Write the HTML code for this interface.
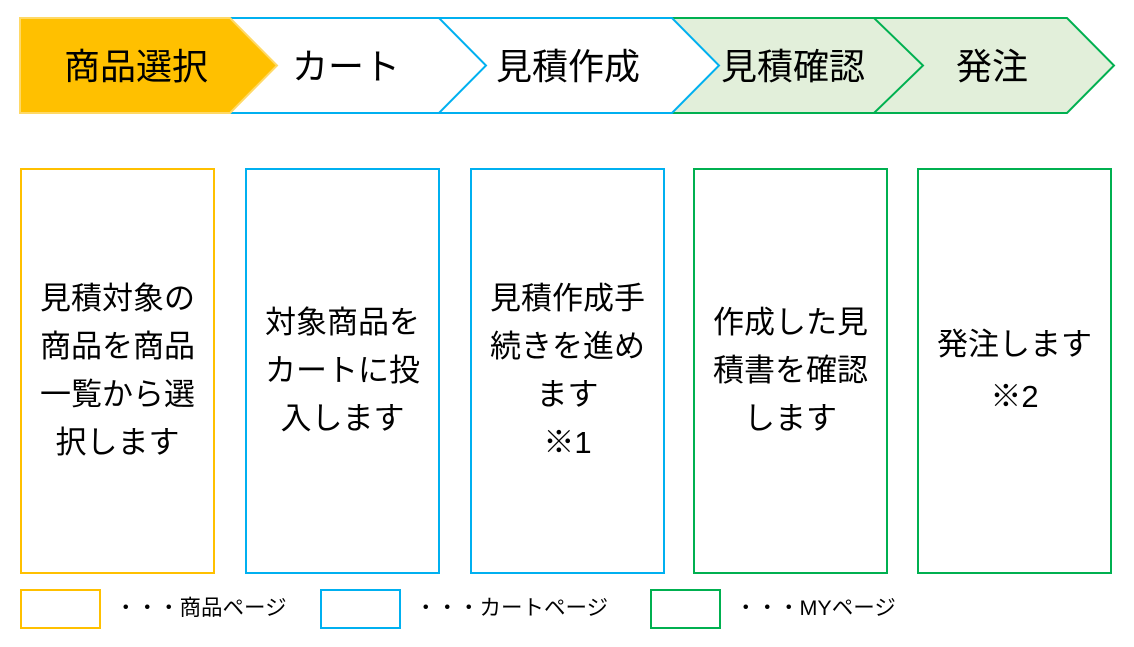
<!DOCTYPE html>
<html><head><meta charset="utf-8"><style>
body{margin:0;width:1134px;height:647px;background:#fff;font-family:"Liberation Sans","Noto Sans CJK JP",sans-serif;position:relative;overflow:hidden}
svg{position:absolute;left:0;top:0}
.b{position:absolute;top:168px;height:406px;width:195px;box-sizing:border-box;border:2px solid;display:flex;align-items:center;justify-content:center;text-align:center;font-size:31px;line-height:48px;color:#000;white-space:nowrap}
.l{position:absolute;top:589px;height:40px;box-sizing:border-box;border:2px solid}
.t{position:absolute;top:594px;font-size:21.5px;line-height:28px}
</style></head><body>
<svg width="1134" height="647">
<g stroke-width="2">
<polygon points="874,18 1067,18 1114,65.5 1067,113 874,113" fill="#E2EFDA" stroke="#00B050"/>
<polygon points="672,18 874,18 923,65.5 874,113 672,113" fill="#E2EFDA" stroke="#00B050"/>
<polygon points="439,18 672,18 719,65.5 672,113 439,113" fill="#fff" stroke="#00B0F0"/>
<polygon points="230,18 439,18 486,65.5 439,113 230,113" fill="#fff" stroke="#00B0F0"/>
<polygon points="20,18 230,18 277,65.5 230,113 20,113" fill="#FFC000" stroke="#FFD966"/>
</g>
<g font-size="36" font-family="Liberation Sans, Noto Sans CJK JP, sans-serif" text-anchor="middle" fill="#000">
<text x="136" y="79">商品選択</text>
<text x="346" y="79">カート</text>
<text x="568" y="79">見積作成</text>
<text x="793" y="79">見積確認</text>
<text x="992" y="79">発注</text>
</g>
</svg>
<div class="b" style="left:20px;border-color:#FFC000">見積対象の<br>商品を商品<br>一覧から選<br>択します</div>
<div class="b" style="left:245px;border-color:#00B0F0">対象商品を<br>カートに投<br>入します</div>
<div class="b" style="left:470px;border-color:#00B0F0">見積作成手<br>続きを進め<br>ます<br>※1</div>
<div class="b" style="left:693px;border-color:#00B050">作成した見<br>積書を確認<br>します</div>
<div class="b" style="left:917px;border-color:#00B050;line-height:52px">発注します<br>※2</div>
<div class="l" style="left:20px;width:81px;border-color:#FFC000"></div>
<div class="l" style="left:320px;width:81px;border-color:#00B0F0"></div>
<div class="l" style="left:650px;width:71px;border-color:#00B050"></div>
<div class="t" style="left:115px">・・・商品ページ</div>
<div class="t" style="left:415px">・・・カートページ</div>
<div class="t" style="left:735px">・・・MYページ</div>
</body></html>
